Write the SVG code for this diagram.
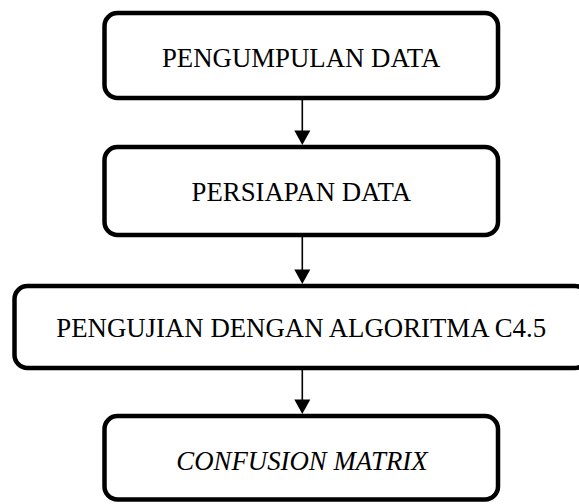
<svg xmlns="http://www.w3.org/2000/svg" width="579" height="504" viewBox="0 0 579 504">
<style>
.box{fill:#fff;stroke:#000;stroke-width:4.5}
.lbl{font-family:"Liberation Serif","Times New Roman",serif;font-size:26.8px;fill:#000;text-anchor:middle}
.con{stroke:#000;stroke-width:1.6;fill:none}
.head{fill:#000}
</style>
<rect width="579" height="504" fill="#fff"/>
<g id="connectors">
<line class="con" x1="302.3" y1="100" x2="302.3" y2="132"/>
<polygon class="head" points="294.3,130.5 310.3,130.5 302.3,145"/>
<line class="con" x1="302.3" y1="237" x2="302.3" y2="271"/>
<polygon class="head" points="294.3,269.5 310.3,269.5 302.3,284"/>
<line class="con" x1="302.3" y1="370" x2="302.3" y2="401"/>
<polygon class="head" points="294.3,399.5 310.3,399.5 302.3,414"/>
</g>
<g id="node1">
<rect class="box" x="104.5" y="13" width="393.5" height="85" rx="13"/>
<text class="lbl" x="301.2" y="66.7">PENGUMPULAN DATA</text>
</g>
<g id="node2">
<rect class="box" x="104.5" y="147" width="393.5" height="88" rx="13"/>
<text class="lbl" x="301.3" y="200.7">PERSIAPAN DATA</text>
</g>
<g id="node3">
<rect class="box" x="14.5" y="286" width="573.5" height="82" rx="13"/>
<text class="lbl" x="301.2" y="336.7">PENGUJIAN DENGAN ALGORITMA C4.5</text>
</g>
<g id="node4">
<rect class="box" x="104.5" y="416" width="393.5" height="83.5" rx="13"/>
<text class="lbl" x="302" y="470" font-style="italic">CONFUSION MATRIX</text>
</g>
</svg>
